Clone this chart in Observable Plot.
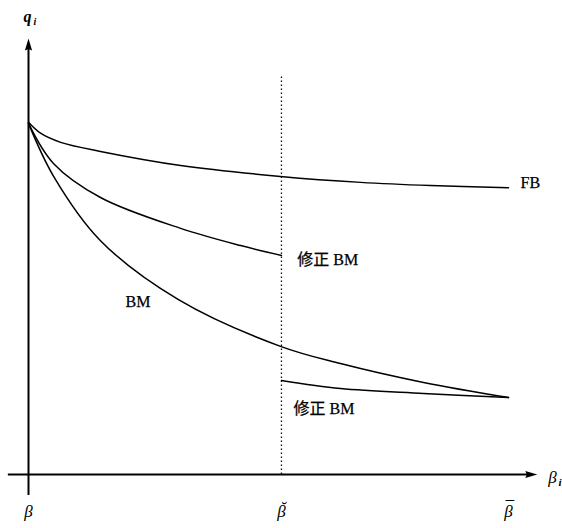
<!DOCTYPE html>
<html>
<head>
<meta charset="utf-8">
<script src="https://cdn.jsdelivr.net/npm/d3@7"></script>
<script src="https://cdn.jsdelivr.net/npm/@observablehq/plot@0.6"></script>
<style>
  html, body { margin: 0; padding: 0; background: #fff; }
  #chart svg { display: block; overflow: visible; }
</style>
</head>
<body>
<div id="chart"></div>
<script>
// Position along beta axis: 0 = β (lower bound), 1 = β̄ (upper bound)
const betaBreve = 0.527;

// FB curve
const fbX = [0, 0.025, 0.067, 0.150, 0.317, 0.525, 0.692, 0.8375, 1.0];
const fbQ = [1.003, 0.972, 0.946, 0.920, 0.880, 0.849, 0.832, 0.823, 0.817];

// Modified BM, upper segment (β .. β̆)
const mbmUpX = [0, 0.052, 0.150, 0.317, 0.442, 0.527];
const mbmUpQ = [1.0, 0.886, 0.789, 0.701, 0.652, 0.624];

// BM curve
const bmX = [0, 0.052, 0.150, 0.3125, 0.525, 0.650, 0.823, 1.0];
const bmQ = [1.0, 0.850, 0.666, 0.498, 0.365, 0.316, 0.262, 0.219];

// Modified BM, lower segment (β̆ .. β̄)
const mbmLoX = [0.527, 0.650, 0.823, 1.0];
const mbmLoQ = [0.268, 0.245, 0.231, 0.219];

// Axis tick labels (accent line above the letter)
const tickX = [0, betaBreve, 1];
const tickLabels = ["β", "\u2009˘\nβ", "¯\nβ"];

// Curve labels
const labelText = ["FB", "修正 BM", "BM", "修正 BM"];
const labelX = [1.025, 0.560, 0.202, 0.552];
const labelQ = [0.832, 0.610, 0.493, 0.188];

// Axis extents (data units)
const xAxisExtent = [-0.042, 1.06];
const yAxisExtent = [-0.06, 1.242];
const dottedTop = 1.136;

const toPts = (xs, qs) => xs.map((x, i) => ({x, q: qs[i]}));
const curves = [
  toPts(fbX, fbQ), toPts(mbmUpX, mbmUpQ), toPts(bmX, bmQ), toPts(mbmLoX, mbmLoQ)
];
const labels = labelText.map((t, i) => ({t, x: labelX[i], q: labelQ[i]}));
const ticks = tickX.map((x, i) => ({x, t: tickLabels[i]}));

const arrowSymbol = {
  draw(context, size) {
    context.moveTo(0, 0);
    context.lineTo(3.6, 12);
    context.lineTo(0, 10.5);
    context.lineTo(-3.6, 12);
    context.closePath();
  }
};

const serif = "Liberation Serif, DejaVu Serif, serif";
const labelFont = "'Liberation Serif', 'Noto Sans CJK SC', serif";

const chart = Plot.plot({
  width: 562,
  height: 528,
  marginLeft: 28,
  marginRight: 54,
  marginTop: 0,
  marginBottom: 54,
  x: {domain: [0, 1], axis: null},
  y: {domain: [0, 1.35], axis: null},
  style: {background: "#fff", overflow: "visible"},
  marks: [
    // dotted line at β̆
    Plot.ruleX([betaBreve], {y1: 0, y2: dottedTop, stroke: "#111", strokeWidth: 1.3, strokeDasharray: "1.4,2.6"}),
    // axes
    Plot.ruleY([0], {x1: xAxisExtent[0], x2: xAxisExtent[1] - 0.01, stroke: "#000", strokeWidth: 2}),
    Plot.ruleX([0], {y1: yAxisExtent[0], y2: yAxisExtent[1] - 0.02, stroke: "#000", strokeWidth: 2}),
    Plot.dot([{x: 0, q: yAxisExtent[1]}], {x: "x", y: "q", symbol: arrowSymbol, fill: "#000", stroke: "none", rotate: 0}),
    Plot.dot([{x: xAxisExtent[1], q: 0}], {x: "x", y: "q", symbol: arrowSymbol, fill: "#000", stroke: "none", rotate: 90}),
    // curves
    ...curves.map(c => Plot.line(c, {x: "x", y: "q", curve: "catmull-rom", stroke: "#000", strokeWidth: 1.5})),
    // curve labels
    Plot.text(labels, {x: "x", y: "q", text: "t", textAnchor: "start", fontSize: 16, fontFamily: labelFont, fill: "#000", stroke: "#000", strokeWidth: 0.25}),
    // tick labels
    Plot.text(ticks, {x: "x", y: () => -0.122, text: "t", lineAnchor: "bottom", lineHeight: 0.25, fontSize: 17, fontStyle: "italic", fontFamily: serif, fill: "#000"}),
    // axis titles
    Plot.text([{x: -0.002, q: 1.302}], {x: "x", y: "q", text: () => "q", fontSize: 16, fontStyle: "italic", fontFamily: serif, fontWeight: "bold", fill: "#000"}),
    Plot.text([{x: 0.0135, q: 1.29}], {x: "x", y: "q", text: () => "i", fontSize: 10, fontStyle: "italic", fontFamily: serif, fontWeight: "bold", fill: "#000"}),
    Plot.text([{x: 1.083, q: -0.008}], {x: "x", y: "q", text: () => "β", textAnchor: "start", fontSize: 17, fontStyle: "italic", fontFamily: serif, fill: "#000"}),
    Plot.text([{x: 1.104, q: -0.022}], {x: "x", y: "q", text: () => "i", textAnchor: "start", fontSize: 11, fontStyle: "italic", fontFamily: serif, fontWeight: "bold", fill: "#000"})
  ]
});
document.getElementById("chart").appendChild(chart);
</script>
</body>
</html>
